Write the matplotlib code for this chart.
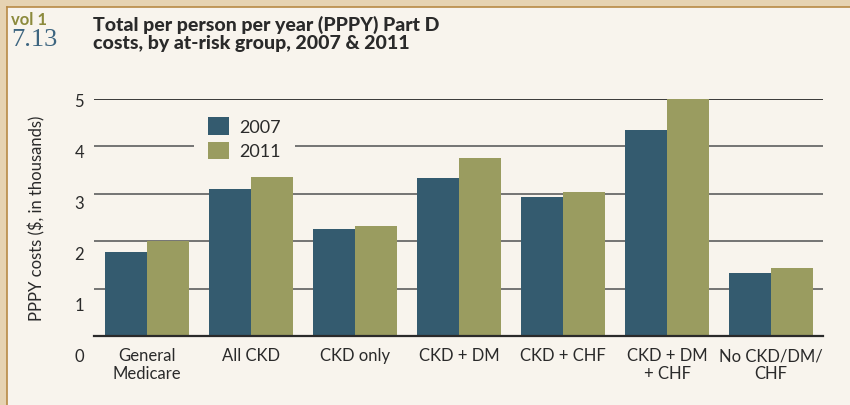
import matplotlib
matplotlib.use("Agg")
import matplotlib.pyplot as plt
import matplotlib.transforms as mtransforms
from matplotlib.patches import Rectangle
from matplotlib.lines import Line2D
import numpy as np

categories = ["General\nMedicare", "All CKD", "CKD only", "CKD + DM",
              "CKD + CHF", "CKD + DM\n+ CHF", "No CKD/DM/\nCHF"]
costs_2007 = [1.78, 3.10, 2.26, 3.33, 2.93, 4.35, 1.33]
costs_2011 = [2.00, 3.35, 2.32, 3.76, 3.04, 5.00, 1.43]
series_labels = ["2007", "2011"]
ytick_labels = ["0", "1", "2", "3", "4", "5"]

C2007 = "#345b6f"
C2011 = "#9a9c60"
PANEL = "#f8f4ed"
BORDER = "#e6d3b2"
TEXT = "#2a2a2a"

plt.rcParams['font.family'] = ['Lato', 'DejaVu Sans']

W, H = 850, 406
fig = plt.figure(figsize=(8.5, 4.06), dpi=100, facecolor=BORDER)

# inner panel
fig.patches.append(Rectangle((7 / W, 0), 1, 1 - 8 / H, transform=fig.transFigure,
                             facecolor=PANEL, edgecolor="none", zorder=-10))
fig.lines.append(Line2D([7 / W, 7 / W], [0, 1 - 8 / H], transform=fig.transFigure,
                        color="#b88a45", lw=1.2, zorder=-9))
fig.lines.append(Line2D([7 / W, 1], [1 - 8 / H, 1 - 8 / H], transform=fig.transFigure,
                        color="#b88a45", lw=1.2, zorder=-9))

ax = fig.add_axes([94 / W, 1 - 337 / H, (823 - 94) / W, (337 - 100) / H])
ax.set_facecolor("none")
ax.set_zorder(1)

x = np.arange(len(categories))
w = 0.404
ax.bar(x - w / 2, costs_2007, w, color=C2007, label=series_labels[0], zorder=2, clip_on=False)
ax.bar(x + w / 2, costs_2011, w, color=C2011, label=series_labels[1], zorder=2, clip_on=False)

ax.set_xlim(-0.51, 6.5)
ax.set_ylim(0, 5)

# gridlines
for k in range(1, 5):
    ax.axhline(k, color="#6a6a6a", lw=1.3, zorder=0.5)
ax.axhline(5, color="#2a2a2a", lw=1.3, zorder=0.5)
ax.axhline(0, color="#2a2a2a", lw=1.6, zorder=3, clip_on=False)

for s in ax.spines.values():
    s.set_visible(False)

ax.set_yticks([])
ax.set_xticks(x)
ax.set_xticklabels(categories, fontsize=12, color=TEXT, linespacing=1.15)
ax.tick_params(axis="x", length=0, pad=8)

# y tick labels (placed as in the reference)
trans = mtransforms.blended_transform_factory(ax.transAxes, ax.transData)
for k, lab in enumerate(ytick_labels):
    ax.text(-10 / (823 - 94), -0.42 + k * 1.076, lab, transform=trans,
            ha="right", va="center", fontsize=12, color=TEXT, clip_on=False)

fig.text(37 / W, 1 - 218 / H, "PPPY costs ($, in thousands)", rotation=90,
         ha="center", va="center", fontsize=12, color=TEXT)

leg = ax.legend(loc="upper left", bbox_to_anchor=(194 / W, 1 - 104 / H),
                bbox_transform=fig.transFigure, borderaxespad=0, fontsize=13,
                frameon=True, facecolor=PANEL, edgecolor="none", framealpha=1,
                fancybox=False, handlelength=1.15, handleheight=1.1,
                handletextpad=0.55, labelspacing=0.35, borderpad=0.8)
for t in leg.get_texts():
    t.set_color(TEXT)
leg.set_zorder(5)

# header
fig.text(11 / W, 1 - 20 / H, "vol 1", fontsize=12, fontweight="bold", color="#8c8a3c",
         va="center", ha="left")
fig.text(11 / W, 1 - 40 / H, "7.13", fontsize=19, color="#3d6580",
         va="center", ha="left", family=['Liberation Serif', 'DejaVu Serif'])
fig.text(93 / W, 1 - 34 / H, "Total per person per year (PPPY) Part D\ncosts, by at-risk group, 2007 & 2011",
         fontsize=14, fontweight="black", color=TEXT, va="center", ha="left",
         linespacing=1.1)

fig.savefig("out.png", dpi=100, facecolor=fig.get_facecolor())
